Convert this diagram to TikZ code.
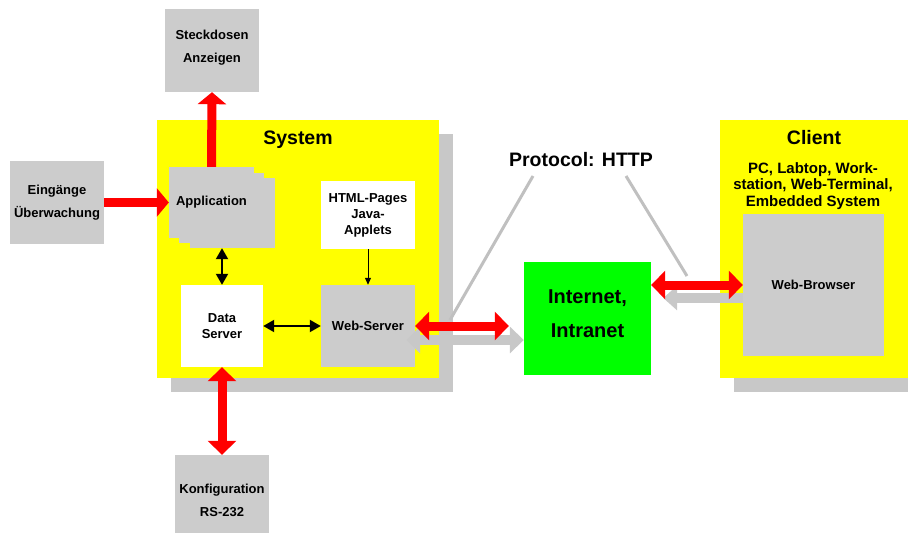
\documentclass[tikz,border=0pt]{standalone}
\usepackage{fontspec}
\setmainfont{Liberation Sans}
\usetikzlibrary{arrows.meta}

\definecolor{boxgray}{RGB}{204,204,204}
\definecolor{shadegray}{RGB}{200,200,200}
\definecolor{wiregray}{RGB}{192,192,192}
\definecolor{sysyellow}{RGB}{255,255,0}
\definecolor{netgreen}{RGB}{0,255,0}

\tikzset{
  box/.style={fill=boxgray, inner sep=0pt, align=center,
    font=\fontsize{13}{23}\selectfont\bfseries},
  whitebox/.style={box, fill=white, font=\fontsize{13}{16}\selectfont\bfseries},
  panel/.style={fill=sysyellow, inner sep=0pt},
  title/.style={inner sep=0pt, anchor=base, font=\fontsize{19.5}{22}\selectfont\bfseries},
  subtitle/.style={inner sep=0pt, align=center, font=\fontsize{15}{16.5}\selectfont\bfseries},
  redline/.style={draw=red, line width=9pt},
  redboth/.style={redline, {Triangle[length=14pt,width=28pt]}-{Triangle[length=14pt,width=28pt]}},
  redto/.style={redline, -{Triangle[length=12pt,width=28pt]}},
  grayboth/.style={draw=shadegray, line width=10pt, {Triangle[length=14pt,width=26pt]}-{Triangle[length=14pt,width=26pt]}},
  grayto/.style={draw=shadegray, line width=10pt, -{Triangle[length=14pt,width=24pt]}},
  blackboth/.style={line width=2pt, {Triangle[length=11pt,width=12pt]}-{Triangle[length=11pt,width=12pt]}},
  blackto/.style={line width=1pt, -{Triangle[length=7pt,width=6pt]}},
  wire/.style={draw=wiregray, line width=3pt}
}

\begin{document}
\begin{tikzpicture}[x=1pt,y=-1pt]
  \useasboundingbox (0,0) rectangle (908,533);

  % system and client panels with their shadows
  \fill[shadegray] (171,134) rectangle (453,392);
  \node[panel, minimum width=282pt, minimum height=258pt] (sys) at (298,249) {};
  \node[title] (systitle) at (298,144.5) {System};

  \fill[shadegray] (734,134) rectangle (908,392);
  \node[panel, minimum width=188pt, minimum height=258pt] (client) at (814,249) {};
  \node[title] (clienttitle) at (814,144.5) {Client};
  \node[subtitle] (clientsub) at (813,186) {PC, Labtop, Work-\\station, Web-Terminal,\\Embedded System};
  \node[box, minimum width=141pt, minimum height=142pt] (browser) at (813.5,285) {Web-Browser};

  % outside boxes
  \node[box, minimum width=94pt, minimum height=83pt, text depth=9pt] (steck) at (212,50.5) {Steckdosen\\Anzeigen};
  \node[box, minimum width=94pt, minimum height=83pt] (eing) at (57,202.5) {Eingänge\\Überwachung};
  \node[box, minimum width=94pt, minimum height=90pt] (konf) at (222,500) {Konfiguration\\RS-232};

  % application stack
  \node[box, minimum width=85pt, minimum height=70pt] (app3) at (232.5,213) {};
  \node[box, minimum width=85pt, minimum height=70pt] (app2) at (221.5,208) {};
  \node[box, minimum width=85pt, minimum height=71pt] (app) at (211.5,202.5) {Application};

  \node[whitebox, minimum width=94pt, minimum height=68pt] (html) at (368,215) {HTML-Pages\\Java-\\Applets};
  \node[box, minimum width=94pt, minimum height=82pt] (web) at (368,326) {Web-Server};
  \node[whitebox, minimum width=82pt, minimum height=82pt] (data) at (222,326) {Data\\Server};

  \node[box, fill=netgreen, minimum width=127pt, minimum height=113pt,
    font=\fontsize{20}{34}\selectfont\bfseries, text depth=9pt] (inet) at (587.5,318.5) {Internet,\\Intranet};

  \node[title] (proto) at (581,166) {Protocol: HTTP};
  \coordinate (protoL) at (533,176);
  \coordinate (protoR) at (626,176);
  \coordinate (wireL) at (450,320);
  \coordinate (wireR) at (687,276);
  \draw[wire] (protoL) -- (wireL);
  \draw[wire] (protoR) -- (wireR);

  % connections inside the system
  \draw[blackboth] (data.north |- app3.south) -- (data.north);
  \draw[blackboth] (data.east) -- (web.west);
  \draw[blackto] (html.south) -- (web.north);

  % connections to the outside
  \draw[redto] (eing.east) -- (app.west);
  \draw[redto] (app.north) -- (steck.south);
  \draw[redboth] (data.south) -- (konf.north);

  \draw[grayboth] ([xshift=-9pt,yshift=-14pt]web.east) -- ([yshift=-14pt]web.east -| inet.west);
  \draw[redboth] (web.east) -- ([xshift=-15pt]web.east -| inet.west);

  \draw[grayto] ([yshift=-13pt]browser.west) -- ([xshift=12pt,yshift=-13pt]browser.west -| inet.east);
  \draw[redboth] (browser.west -| inet.east) -- (browser.west);
\end{tikzpicture}
\end{document}
